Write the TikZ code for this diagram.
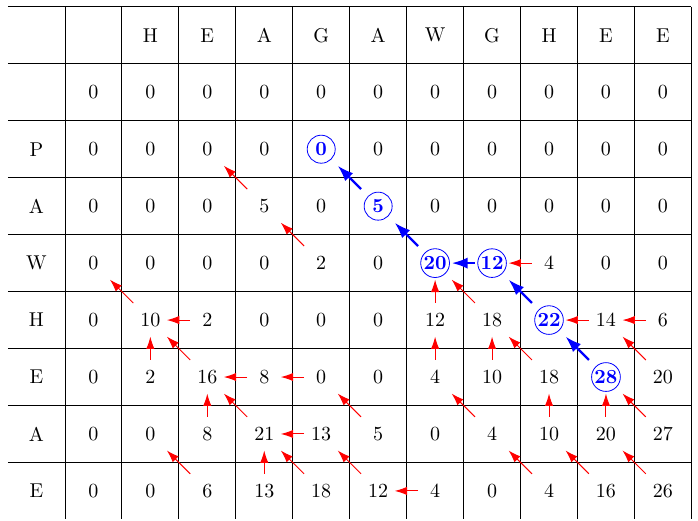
\documentclass[tikz,border=0pt]{standalone}
\usetikzlibrary{calc,arrows.meta}
\tikzset{
  gridline/.style={line width=0.4pt, black},
  cell/.style={inner sep=1pt},
  best/.style={circle, draw=blue, line width=0.4pt, text=blue, font=\bfseries, inner sep=0.4pt, minimum size=14pt},
  redarr/.style={red, line width=0.5pt, -{Latex[length=6.2pt,width=4.2pt]}},
  bluearr/.style={blue, line width=1.2pt, -{Latex[length=8pt,width=5.6pt]}},
  c-2-5/.style=best, c-3-6/.style=best, c-4-7/.style=best,
  c-4-8/.style=best, c-5-9/.style=best, c-6-10/.style=best
}
\newcommand\tbarrow[3][redarr]{\draw[#1] ($(#2)!0.3!(#3)$) -- ($(#2)!0.71!(#3)$);}
\begin{document}
\begin{tikzpicture}
\useasboundingbox (-0.14,0.12) rectangle (12.116,-9.028);
% grid
\foreach \r in {0,...,8} \draw[gridline] (0,-\r) -- (12,-\r);
\foreach \c in {1,...,12} \draw[gridline] (\c,0) -- (\c,-9);
% header letters
\foreach \t [count=\c from 2] in {H,E,A,G,A,W,G,H,E,E}
  \node[cell] (h-\c) at (\c+0.5,-0.5) {\t};
% row labels
\foreach \t [count=\r from 2] in {P,A,W,H,E,A,E}
  \node[cell] (l-\r) at (0.5,-\r-0.5) {\t};
% values
\foreach \row [count=\r] in {
  {0,0,0,0,0,0,0,0,0,0,0},
  {0,0,0,0,0,0,0,0,0,0,0},
  {0,0,0,5,0,5,0,0,0,0,0},
  {0,0,0,0,2,0,20,12,4,0,0},
  {0,10,2,0,0,0,12,18,22,14,6},
  {0,2,16,8,0,0,4,10,18,28,20},
  {0,0,8,21,13,5,0,4,10,20,27},
  {0,0,6,13,18,12,4,0,4,16,26}}
{
  \foreach \v [count=\c] in \row
    \node[cell, c-\r-\c/.try] (n-\r-\c) at (\c+0.5,-\r-0.5) {\v};
}
% red traceback pointers
\tbarrow{n-3-4}{n-2-3}
\tbarrow{n-4-5}{n-3-4}
\tbarrow{n-4-9}{n-4-8}
\tbarrow{n-5-2}{n-4-1}
\tbarrow{n-5-7}{n-4-7}
\tbarrow{n-5-8}{n-4-7}
\tbarrow{n-5-3}{n-5-2}
\tbarrow{n-5-10}{n-5-9}
\tbarrow{n-5-11}{n-5-10}
\tbarrow{n-6-2}{n-5-2}
\tbarrow{n-6-3}{n-5-2}
\tbarrow{n-6-7}{n-5-7}
\tbarrow{n-6-8}{n-5-8}
\tbarrow{n-6-9}{n-5-8}
\tbarrow{n-6-11}{n-5-10}
\tbarrow{n-6-4}{n-6-3}
\tbarrow{n-6-5}{n-6-4}
\tbarrow{n-7-3}{n-6-3}
\tbarrow{n-7-4}{n-6-3}
\tbarrow{n-7-6}{n-6-5}
\tbarrow{n-7-8}{n-6-7}
\tbarrow{n-7-9}{n-6-9}
\tbarrow{n-7-10}{n-6-10}
\tbarrow{n-7-11}{n-6-10}
\tbarrow{n-7-5}{n-7-4}
\tbarrow{n-8-3}{n-7-2}
\tbarrow{n-8-4}{n-7-4}
\tbarrow{n-8-5}{n-7-4}
\tbarrow{n-8-6}{n-7-5}
\tbarrow{n-8-9}{n-7-8}
\tbarrow{n-8-10}{n-7-9}
\tbarrow{n-8-11}{n-7-10}
\tbarrow{n-8-7}{n-8-6}
% blue best path
\tbarrow[bluearr]{n-3-6}{n-2-5}
\tbarrow[bluearr]{n-4-7}{n-3-6}
\tbarrow[bluearr]{n-4-8}{n-4-7}
\tbarrow[bluearr]{n-5-9}{n-4-8}
\tbarrow[bluearr]{n-6-10}{n-5-9}
\end{tikzpicture}
\end{document}
